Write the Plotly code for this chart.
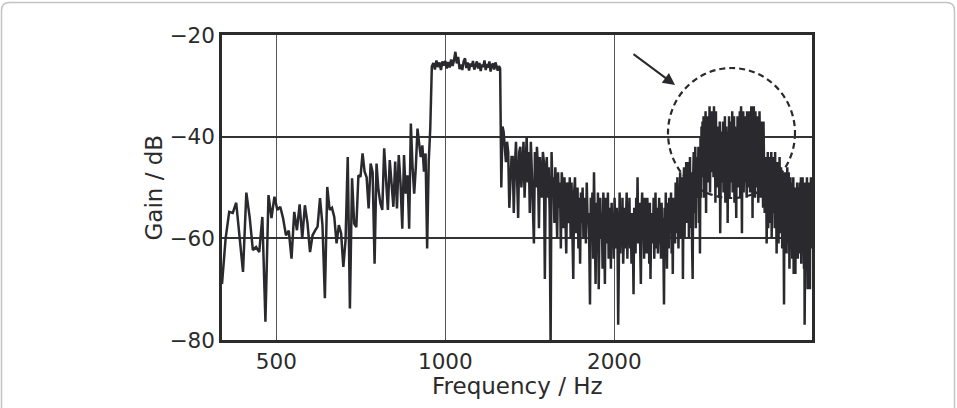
import numpy as np
import plotly.graph_objects as go

# ---------------- data ----------------
bin_start_hz = 400
bin_step_hz = 6

gain_low_band = [
    -69, -60, -54.8, -55, -53, -60.5, -66.6, -51, -55.8, -62.3,
    -61.7, -62.7, -55.8, -76.4, -51.5, -56, -51.8, -54.4, -53.8, -56.1,
    -59.4, -58.5, -64, -54.8, -58.4, -53.3, -60, -53.5, -57, -62.7,
    -59.4, -58.5, -57.7, -52.1, -57.4, -71.8, -49.9, -54.4, -54, -55.8,
    -61, -57.4, -59, -65.6, -60.4, -44, -73.8, -48.2, -57.1, -57.8,
    -47.6, -47.9, -43.3, -46.9, -48, -54.1, -45.3, -47, -65, -45.3,
    -50.5, -53.1, -54.4, -42.3, -47.9, -54.4, -44.6, -49.2, -53.8, -44.9,
    -54.1, -43.6, -49.2, -58.1, -43.6, -51.2, -47.6, -58.1, -37.4, -45.9,
    -51.2, -45.9, -38.4, -41.3, -44.0, -41.7, -46.9, -43.3, -62.0, -44.9,
    -38.3,
]

gain_pass_band = [
    -26.2, -25.5, -26.8, -25.0, -26.3, -25.4, -26.9, -25.2, -26.0, -25.1,
    -26.6, -25.3, -26.4, -24.8, -26.1, -25.0, -23.3, -25.6, -24.3, -26.7,
    -25.8, -26.9, -25.2, -24.6, -26.5, -25.4, -27.0, -25.6, -26.2, -25.1,
    -26.8, -25.9, -25.2, -26.6, -25.5, -27.1, -25.8, -26.3, -25.0, -26.9,
    -25.7, -26.4, -25.2, -27.2, -26.0, -25.6, -26.8, -25.4, -26.5, -27.0,
    -26.1, -26.6,
]

gain_high_band = [
    -50, -38, -39, -42, -45, -41, -43, -54, -47, -44,
    -44, -55, -46, -41, -48, -56, -43, -42, -50, -45,
    -41, -52, -45, -40, -49, -43, -55, -41, -47, -56,
    -61, -43, -50, -42, -46, -58, -44, -48, -52, -43,
    -45, -68, -47, -44, -52, -46, -55, -81, -43, -50,
    -48, -57, -46, -52, -60, -47, -54, -49, -62, -47,
    -50, -58, -48, -55, -63, -49, -53, -57, -48, -60,
    -49, -56, -68, -51, -48, -59, -53, -50, -62, -52,
    -65, -51, -57, -50, -60, -54, -52, -61, -49, -56,
    -55, -60, -73, -52, -58, -51, -64, -47, -56, -69,
    -53, -62, -51, -70, -57, -52, -60, -55, -66, -51,
    -58, -69, -52, -56, -61, -51, -64, -54, -57, -66,
    -53, -60, -55, -64, -52, -58, -62, -54, -59, -77,
    -56, -51, -63, -55, -60, -52, -65, -57, -54, -62,
    -58, -51, -64, -53, -60, -52, -62, -56, -65, -55,
    -60, -71, -54, -57, -63, -52, -59, -48, -61, -55,
    -53, -62, -69, -55, -51, -60, -57, -64, -52, -58,
    -56, -63, -52, -59, -54, -65, -53, -68, -57, -61,
    -55, -60, -52, -64, -57, -51, -62, -58, -54, -63,
    -57, -52, -61, -55, -64, -53, -59, -56, -62, -73,
    -54, -60, -51, -58, -66, -53, -57, -62, -52, -59,
    -56, -51, -63, -55, -67, -52, -58, -54, -61, -49,
    -53, -59, -48, -56, -62, -50, -57, -47, -60, -54,
    -58, -48, -68, -52, -46, -60, -50, -55, -45, -57,
    -49, -56, -45, -60, -51, -44, -58, -53, -47, -62,
    -68, -48, -43, -55, -50, -42, -58, -46, -52, -44,
    -50, -42, -57, -45, -63, -40, -52, -38, -48, -37,
    -45, -36, -52, -38, -47, -35, -55, -39, -44, -36,
    -49, -37, -42, -34, -51, -38, -45, -35, -47, -39,
    -36, -48, -34, -44, -39, -53, -35, -46, -40, -50,
    -38, -47, -41, -52, -37, -59, -43, -39, -49, -42,
    -45, -37, -51, -40, -48, -36, -53, -42, -38, -50,
    -41, -57, -39, -47, -36, -52, -43, -38, -49, -37,
    -46, -35, -51, -40, -44, -36, -53, -38, -48, -42,
    -56, -39, -45, -36, -50, -41, -37, -47, -35, -52,
    -40, -34, -48, -59, -38, -44, -35, -51, -42, -37,
    -49, -36, -43, -38, -52, -35, -46, -40, -50, -37,
    -44, -35, -51, -39, -47, -34, -42, -38, -56, -36,
    -48, -34, -41, -37, -52, -35, -45, -39, -50, -36,
    -43, -36, -53, -38, -46, -35, -49, -40, -52, -37,
    -47, -38, -50, -41, -54, -37, -46, -44, -55, -45,
    -44, -55, -47, -61, -45, -51, -43, -58, -49, -46,
    -52, -44, -57, -46, -53, -43, -60, -48, -45, -55,
    -47, -44, -54, -49, -58, -43, -51, -46, -56, -63,
    -48, -45, -56, -50, -61, -46, -53, -44, -59, -49,
    -52, -46, -58, -48, -62, -50, -55, -47, -60, -73,
    -54, -47, -60, -50, -57, -48, -63, -51, -46, -58,
    -49, -61, -47, -55, -66, -50, -58, -48, -62, -53,
    -56, -49, -64, -51, -59, -48, -67, -53, -50, -60,
    -52, -67, -50, -58, -55, -62, -49, -57, -64, -51,
    -58, -50, -63, -53, -49, -60, -55, -48, -65, -52,
    -51, -59, -48, -62, -54, -50, -66, -49, -77, -53,
    -57, -49, -63, -52, -60, -48, -56, -70, -50, -58,
    -53, -61, -49, -57, -70, -51, -59, -48, -55, -62,
    -52,
]

x_tick_values = [500, 1000, 2000]
x_tick_labels = ["500", "1000", "2000"]
y_tick_values = [-80, -60, -40, -20]
x_range_hz = [400, 4500]
y_range_db = [-80, -20]
x_title = "Frequency / Hz"
y_title = "Gain / dB"

gain_db = gain_low_band + gain_pass_band + gain_high_band
freq_hz = bin_start_hz + bin_step_hz * np.arange(len(gain_db))

# ---------------- figure ----------------
ink = "#2a2a2e"
text_color = "#2b2b2b"
font_family = "DejaVu Sans, Liberation Sans, Arial, sans-serif"

fig = go.Figure()
fig.add_trace(go.Scatter(
    x=freq_hz, y=gain_db, mode="lines",
    line=dict(color=ink, width=2.5),
    hoverinfo="skip", showlegend=False,
))

L, R, T, B = 222, 145, 35, 68
W, H = 957, 408
pw, ph = W - L - R, H - T - B


def px_to_paper(px, py):
    return (px - L) / pw, (H - B - py) / ph


# outer rounded frame of the picture
xl, yt = px_to_paper(1.5, 2.5)
xr, yb = px_to_paper(954.5, 440)
rx, ry = 8 / pw, 8 / ph
frame_path = (f"M {xl},{yb} L {xl},{yt - ry} Q {xl},{yt} {xl + rx},{yt} "
              f"L {xr - rx},{yt} Q {xr},{yt} {xr},{yt - ry} L {xr},{yb}")
fig.add_shape(type="path", path=frame_path, xref="paper", yref="paper",
              line=dict(color="#c4c4c4", width=1.5), layer="below")

# dashed ellipse marking the region of interest
ex0, ey1 = px_to_paper(668, 68)
ex1, ey0 = px_to_paper(795, 198)
fig.add_shape(type="circle", xref="paper", yref="paper",
              x0=ex0, x1=ex1, y0=ey0, y1=ey1,
              line=dict(color=ink, width=2.2, dash="6px,4px"), layer="between")

# arrow pointing at the ellipse
ax_head, ay_head = px_to_paper(675, 85)
fig.add_annotation(x=ax_head, y=ay_head, xref="paper", yref="paper",
                   ax=-43, ay=-32, axref="pixel", ayref="pixel",
                   showarrow=True, arrowhead=2, arrowsize=1.2, arrowwidth=2,
                   arrowcolor=ink, text="")

axis_font = dict(family=font_family, size=21.5, color=text_color)
title_font = dict(family=font_family, size=23, color=text_color)

# axis titles placed as annotations for exact positioning
tx, ty = px_to_paper(517, 386)
fig.add_annotation(x=tx, y=ty, xref="paper", yref="paper", text=x_title,
                   showarrow=False, font=title_font,
                   xanchor="center", yanchor="middle")
gx, gy = px_to_paper(153, 187.5)
fig.add_annotation(x=gx, y=gy, xref="paper", yref="paper", text=y_title,
                   showarrow=False, font=title_font, textangle=-90,
                   xanchor="center", yanchor="middle")

fig.update_xaxes(
    type="log", range=[np.log10(x_range_hz[0]), np.log10(x_range_hz[1])],
    tickmode="array", tickvals=x_tick_values, ticktext=x_tick_labels,
    showgrid=True, gridcolor="#555555", gridwidth=1.4,
    showline=True, linecolor="#2b2b2b", linewidth=2.5, mirror=True,
    ticks="", tickfont=axis_font, zeroline=False, automargin=False,
)
fig.update_yaxes(
    range=y_range_db, tickmode="array", tickvals=y_tick_values,
    showgrid=True, gridcolor="#333333", gridwidth=1.5,
    showline=True, linecolor="#2b2b2b", linewidth=2.5, mirror=True,
    ticks="", tickfont=axis_font, zeroline=False, automargin=False,
)

fig.update_layout(
    width=W, height=H,
    margin=dict(l=L, r=R, t=T, b=B, pad=0),
    paper_bgcolor="white", plot_bgcolor="white",
    font=dict(family=font_family, color=text_color),
)

fig.write_html("out.html")
